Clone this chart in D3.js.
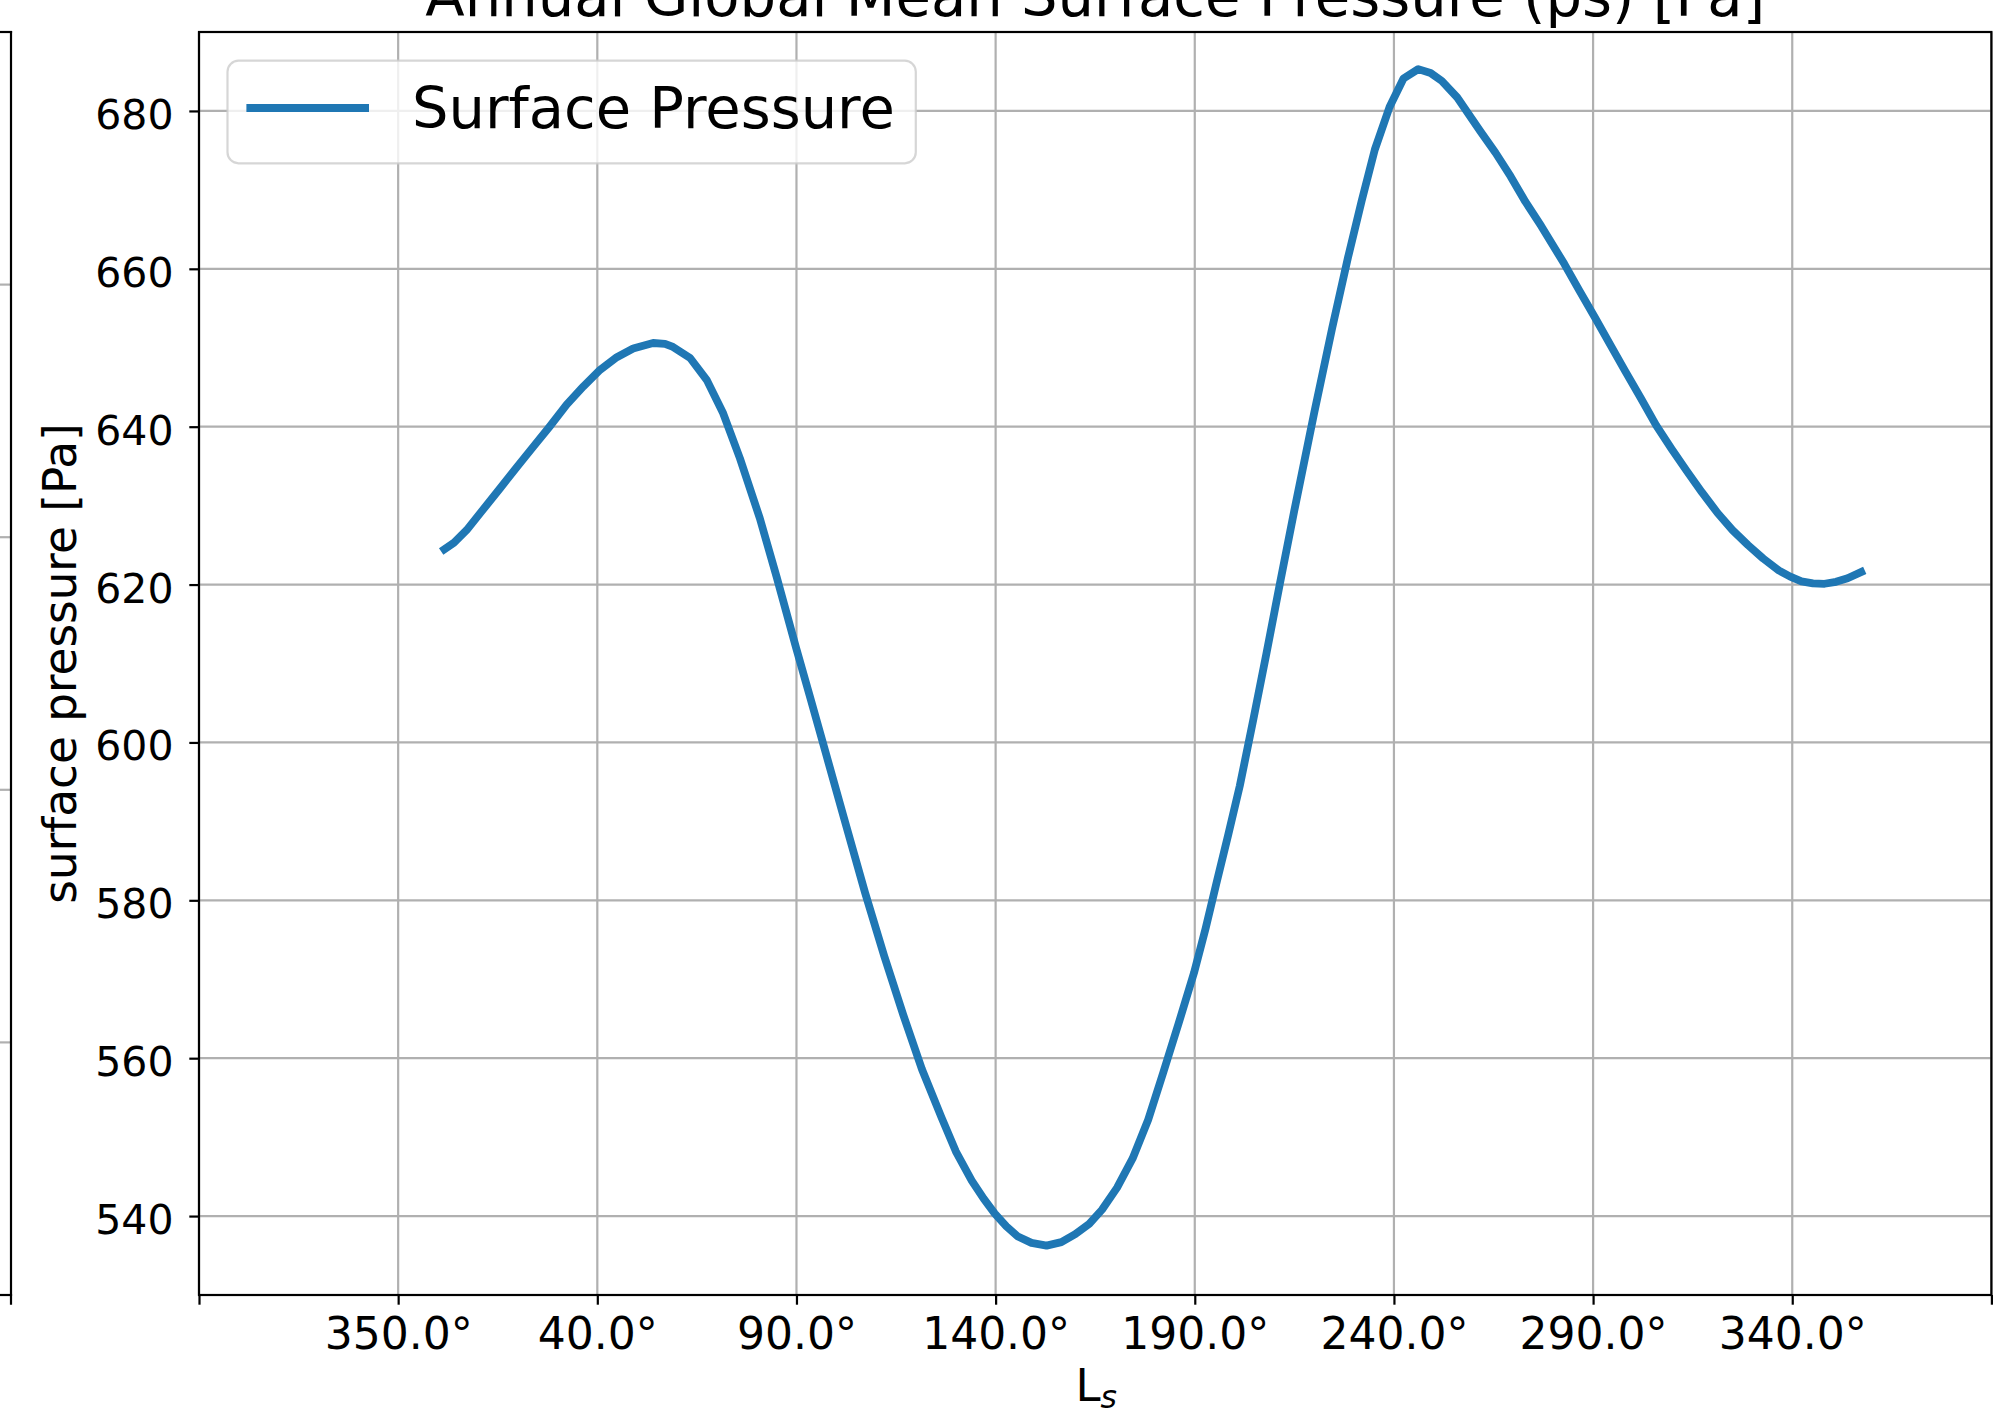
<!DOCTYPE html>
<html>
<head>
<meta charset="utf-8">
<script src="https://cdn.jsdelivr.net/npm/d3@7"></script>
<style>
  html, body { margin: 0; padding: 0; background: #ffffff; }
  svg { display: block; font-family: "DejaVu Sans", sans-serif; }
</style>
</head>
<body>
<svg id="chart" width="2001" height="1415"></svg>
<script>
// ---------------- data ----------------
const titleText = "Annual Global Mean Surface Pressure (ps) [Pa]";
const seriesName = "Surface Pressure";
const yLabelText = "surface pressure [Pa]";

// Solar longitude (unwrapped degrees) of each sample
const lsValues = [
  0.8, 4, 7.2, 11, 15.6, 20, 24, 28, 32.3, 36.5, 40.7, 44.9, 49, 54, 57, 59,
  63.3, 67.5, 71.6, 75.8, 80.8, 85, 89.9, 93.5, 97.5, 102, 107.2, 112, 116.8,
  121.5, 126.4, 130, 134, 137, 139.8, 142.7, 145.6, 149, 152.8, 156.5, 160,
  163.5, 166.7, 170.5, 174.4, 178.3, 182.1, 186, 189.8, 192.7, 195.5, 198.4,
  201.3, 204.7, 208, 211.4, 215, 220, 224.5, 228.5, 231.9, 235.2, 238.9, 242.4,
  246.1, 249.2, 252, 255.9, 261.6, 265.5, 269.3, 273, 277, 282.8, 286.6, 290.5,
  294.3, 298.1, 302, 305.8, 309.7, 313.5, 317.3, 321.2, 325, 328.9, 332.7,
  336.6, 339.5, 342.3, 345.2, 348.1, 351, 353.9, 358.2
];
// Global mean surface pressure [Pa]
const psValues = [
  624.2, 625.3, 626.9, 629.3, 632.2, 635.0, 637.5, 640.0, 642.8, 645.1, 647.2,
  648.8, 649.9, 650.6, 650.5, 650.1, 648.7, 645.9, 641.7, 636.0, 628.4, 621.0,
  612.0, 605.6, 598.4, 590.3, 581.0, 573.0, 565.5, 558.6, 552.5, 548.2, 544.5,
  542.2, 540.3, 538.7, 537.4, 536.6, 536.25, 536.7, 537.7, 539.0, 540.8, 543.6,
  547.3, 552.2, 558.2, 564.5, 570.8, 576.4, 582.3, 588.3, 594.5, 602.9, 611.3,
  620.2, 629.4, 641.8, 652.5, 661.5, 668.6, 675.1, 680.5, 684.1, 685.3, 684.8,
  683.8, 681.7, 677.5, 674.7, 671.7, 668.5, 665.4, 660.6, 657.2, 653.8, 650.4,
  647.0, 643.6, 640.2, 637.2, 634.4, 631.7, 629.1, 626.9, 625.0, 623.3, 621.8,
  621.0, 620.4, 620.15, 620.1, 620.35, 620.8, 621.8
];

const xTicks = [-60, -10, 40, 90, 140, 190, 240, 290, 340, 390];
const xTickLabels = ["", "350.0°", "40.0°", "90.0°", "140.0°", "190.0°", "240.0°", "290.0°", "340.0°", ""];
const yTicks = [540, 560, 580, 600, 620, 640, 660, 680];
const xDomain = [-60, 390];
const yDomain = [530, 690];

// neighbouring panel (cut off at the left edge): its grid divisions
const neighborTicks = [0, 1, 2, 3, 4, 5];

// ---------------- layout ----------------
const mLeft = 199, mRight = 1991.4, mTop = 32, mBottom = 1295;
const lineBlue = "#1f77b4";
const gridColor = "#b0b0b0";
const thin = 2.2;
const tickLen = 9.7;

const svg = d3.select("#chart");
svg.append("rect").attr("width", 2001).attr("height", 1415).attr("fill", "#fff");

const x = d3.scaleLinear().domain(xDomain).range([mLeft, mRight]);
const y = d3.scaleLinear().domain(yDomain).range([mBottom, mTop]);

// ---------- neighbouring panel fragment at far left ----------
const yN = d3.scaleLinear().domain([0, 5]).range([mBottom, mTop]);
const nb = svg.append("g");
nb.selectAll("line.ngrid").data(neighborTicks.slice(1, -1)).enter().append("line")
  .attr("x1", 0).attr("x2", 10).attr("y1", d => yN(d)).attr("y2", d => yN(d))
  .attr("stroke", gridColor).attr("stroke-width", thin);
nb.append("line").attr("x1", 11).attr("x2", 11).attr("y1", mTop - 1.1).attr("y2", mBottom + tickLen)
  .attr("stroke", "#000").attr("stroke-width", thin);
nb.append("line").attr("x1", 0).attr("x2", 12.1).attr("y1", mTop).attr("y2", mTop)
  .attr("stroke", "#000").attr("stroke-width", thin);
nb.append("line").attr("x1", 0).attr("x2", 12.1).attr("y1", mBottom).attr("y2", mBottom)
  .attr("stroke", "#000").attr("stroke-width", thin);

// ---------------- grid ----------------
const grid = svg.append("g");
grid.selectAll("line.vg").data(xTicks).enter().append("line")
  .attr("x1", d => x(d)).attr("x2", d => x(d)).attr("y1", mTop).attr("y2", mBottom)
  .attr("stroke", gridColor).attr("stroke-width", thin);
grid.selectAll("line.hg").data(yTicks).enter().append("line")
  .attr("x1", mLeft).attr("x2", mRight).attr("y1", d => y(d)).attr("y2", d => y(d))
  .attr("stroke", gridColor).attr("stroke-width", thin);

// ---------------- series ----------------
const pts = lsValues.map((d, i) => [d, psValues[i]]);
svg.append("path")
  .datum(pts)
  .attr("fill", "none")
  .attr("stroke", lineBlue)
  .attr("stroke-width", 7.8)
  .attr("stroke-linejoin", "round")
  .attr("stroke-linecap", "butt")
  .attr("d", d3.line().x(d => x(d[0])).y(d => y(d[1])).curve(d3.curveLinear));

// ---------------- axes ----------------
const xAxis = svg.append("g").attr("transform", `translate(0,${mBottom})`)
  .call(d3.axisBottom(x).tickValues(xTicks).tickFormat((d, i) => xTickLabels[i])
    .tickSize(tickLen).tickSizeOuter(0));
xAxis.select(".domain").remove();
xAxis.selectAll(".tick line").attr("stroke", "#000").attr("stroke-width", thin);
xAxis.selectAll(".tick text")
  .attr("y", 53.5).attr("dy", 0)
  .attr("fill", "#000")
  .style("font-family", "'DejaVu Sans', sans-serif")
  .style("font-size", "44px");

const yAxis = svg.append("g").attr("transform", `translate(${mLeft},0)`)
  .call(d3.axisLeft(y).tickValues(yTicks).tickFormat(d3.format("d"))
    .tickSize(tickLen).tickSizeOuter(0));
yAxis.select(".domain").remove();
yAxis.selectAll(".tick line").attr("stroke", "#000").attr("stroke-width", thin);
yAxis.selectAll(".tick text")
  .attr("x", -(mLeft - 173.5)).attr("y", 17.5).attr("dy", 0)
  .attr("fill", "#000")
  .style("font-family", "'DejaVu Sans', sans-serif")
  .style("font-size", "41px");

// frame
svg.append("rect")
  .attr("x", mLeft).attr("y", mTop).attr("width", mRight - mLeft).attr("height", mBottom - mTop)
  .attr("fill", "none").attr("stroke", "#000").attr("stroke-width", thin);

// ---------------- labels ----------------
svg.append("text")
  .attr("x", (mLeft + mRight) / 2).attr("y", 16)
  .attr("text-anchor", "middle")
  .style("font-size", "57.6px")
  .attr("fill", "#000")
  .text(titleText);

svg.append("text")
  .attr("transform", `translate(76,${(mTop + mBottom) / 2}) rotate(-90)`)
  .attr("text-anchor", "middle")
  .style("font-size", "45.3px")
  .attr("fill", "#000")
  .text(yLabelText);

const xl = svg.append("text")
  .attr("x", (mLeft + mRight) / 2 + 1).attr("y", 1401)
  .attr("text-anchor", "middle")
  .style("font-size", "45px")
  .attr("fill", "#000");
xl.append("tspan").text("L");
xl.append("tspan").attr("dy", 7).style("font-size", "31.5px").style("font-style", "italic").text("s");

// ---------------- legend ----------------
const lg = svg.append("g");
lg.append("rect")
  .attr("x", 227.5).attr("y", 60.7).attr("width", 688.3).attr("height", 102.6)
  .attr("rx", 11).attr("ry", 11)
  .attr("fill", "#fff").attr("fill-opacity", 0.8)
  .attr("stroke", "#cccccc").attr("stroke-opacity", 0.8).attr("stroke-width", 2.2);
lg.append("line")
  .attr("x1", 246.4).attr("x2", 369).attr("y1", 108).attr("y2", 108)
  .attr("stroke", lineBlue).attr("stroke-width", 7.8);
lg.append("text")
  .attr("x", 412).attr("y", 128.3)
  .style("font-size", "57.5px")
  .attr("fill", "#000")
  .text(seriesName);
</script>
</body>
</html>
